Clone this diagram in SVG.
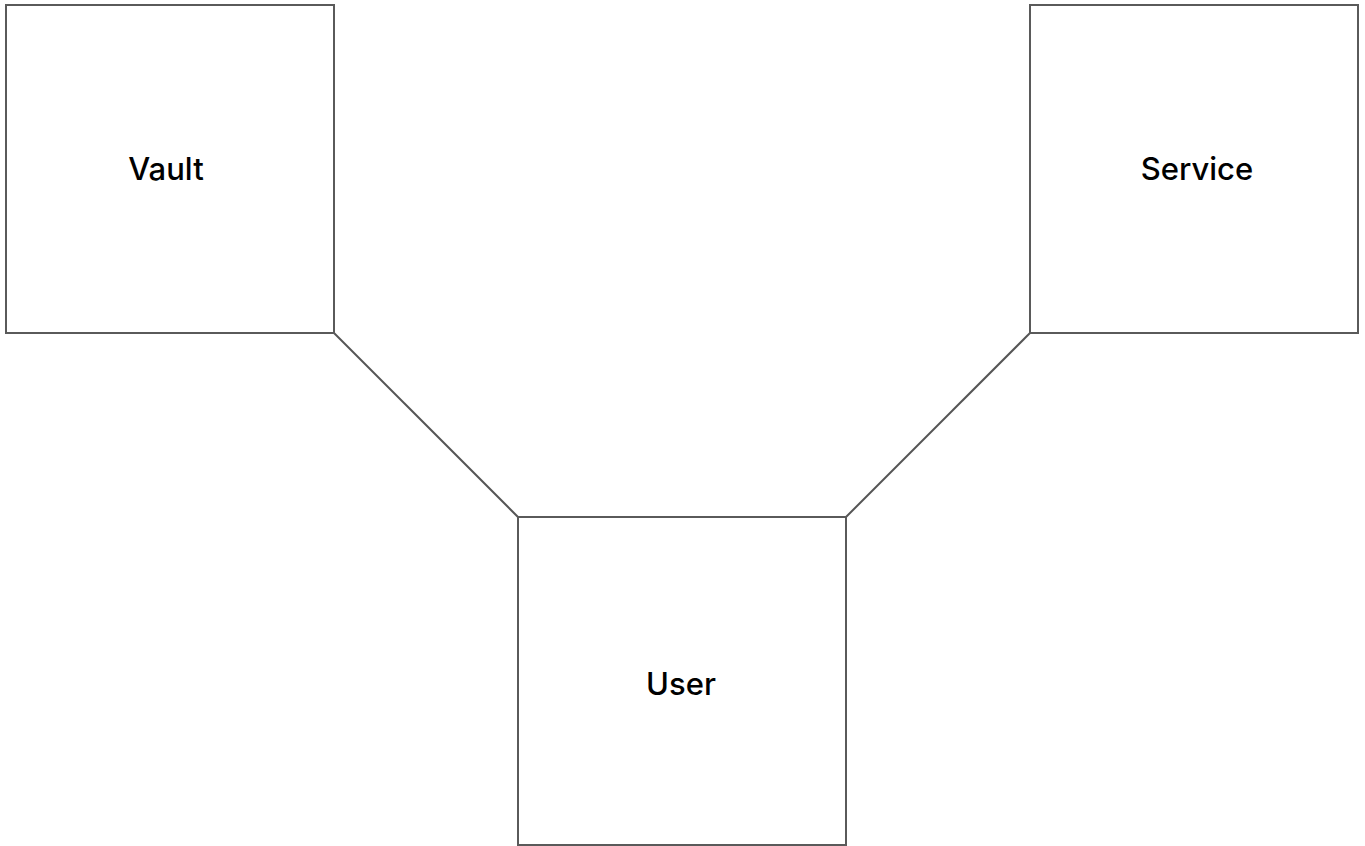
<svg xmlns="http://www.w3.org/2000/svg" width="1365" height="846" viewBox="0 0 1365 846">
<style>
.box{fill:#fff;stroke:#5a5a5a;stroke-width:2}
.lbl{font-family:Inter,"Liberation Sans",Arial,sans-serif;font-size:31px;font-weight:500;fill:#000;text-anchor:middle}
.conn{stroke:#555;stroke-width:2;fill:none}
</style>
<rect width="1365" height="846" fill="#fff"/>
<g id="connectors">
<line class="conn" x1="334" y1="333" x2="518" y2="517"/>
<line class="conn" x1="846" y1="517" x2="1030" y2="333"/>
</g>
<g id="vault">
<rect class="box" x="6" y="5" width="328" height="328"/>
<text class="lbl" x="166" y="180">Vault</text>
</g>
<g id="service">
<rect class="box" x="1030" y="5" width="328" height="328"/>
<text class="lbl" x="1197" y="180">Service</text>
</g>
<g id="user">
<rect class="box" x="518" y="517" width="328" height="328"/>
<text class="lbl" x="681" y="695">User</text>
</g>
</svg>
